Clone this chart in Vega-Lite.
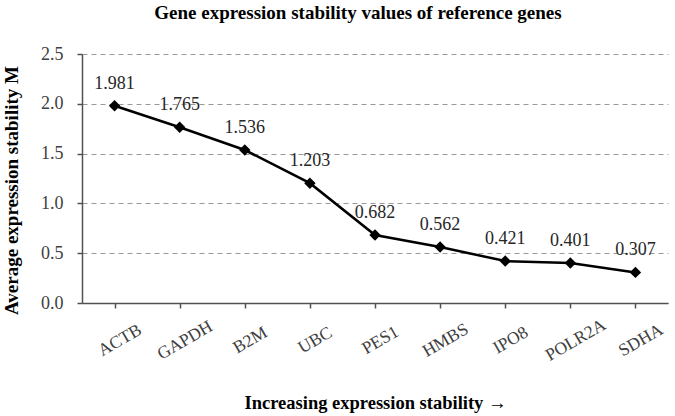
{
  "$schema": "https://vega.github.io/schema/vega-lite/v6.json",
  "autosize": "none",
  "width": 586,
  "height": 249,
  "padding": {"left": 82, "top": 54, "right": 7, "bottom": 113},
  "background": "white",
  "title": {
    "text": "Gene expression stability values of reference genes",
    "font": "Liberation Serif",
    "fontSize": 19,
    "fontWeight": "bold",
    "color": "#000000",
    "anchor": "middle",
    "frame": "group",
    "baseline": "bottom",
    "dx": -17,
    "offset": 3
  },
  "config": {
    "view": {"stroke": null},
    "font": "Liberation Serif"
  },
  "data": {
    "values": [
      {"gene": "ACTB", "M": 1.981},
      {"gene": "GAPDH", "M": 1.765},
      {"gene": "B2M", "M": 1.536},
      {"gene": "UBC", "M": 1.203},
      {"gene": "PES1", "M": 0.682},
      {"gene": "HMBS", "M": 0.562},
      {"gene": "IPO8", "M": 0.421},
      {"gene": "POLR2A", "M": 0.401},
      {"gene": "SDHA", "M": 0.307}
    ]
  },
  "encoding": {
    "x": {
      "field": "gene",
      "type": "ordinal",
      "sort": null,
      "scale": {"paddingInner": 0, "paddingOuter": 0},
      "axis": {
        "title": "Increasing expression stability →",
        "titleFont": "Liberation Serif",
        "titleFontSize": 18.5,
        "titleFontWeight": "bold",
        "titleColor": "#000000",
        "titleY": 105,
        "titleBaseline": "alphabetic",
        "labelAngle": -30,
        "labelAlign": "center",
        "labelBaseline": "middle",
        "labelPadding": 32,
        "labelOffset": 5,
        "labelFont": "Liberation Serif",
        "labelFontSize": 17.5,
        "labelColor": "#404040",
        "bandPosition": 0,
        "tickSize": 5,
        "tickColor": "#505050",
        "tickWidth": 1.5,
        "domainColor": "#505050",
        "domainWidth": 1.5,
        "grid": false
      }
    },
    "y": {
      "field": "M",
      "type": "quantitative",
      "scale": {"domain": [0, 2.5], "nice": false},
      "axis": {
        "title": "Average expression stability M",
        "titleFont": "Liberation Serif",
        "titleFontSize": 19,
        "titleFontWeight": "bold",
        "titleColor": "#000000",
        "titleX": -65,
        "titleY": 136,
        "titleAlign": "center",
        "titleBaseline": "alphabetic",
        "titleAngle": -90,
        "values": [0, 0.5, 1, 1.5, 2, 2.5],
        "format": ".1f",
        "labelFont": "Liberation Serif",
        "labelFontSize": 18,
        "labelColor": "#404040",
        "labelPadding": 14,
        "tickSize": 5,
        "tickColor": "#505050",
        "tickWidth": 1.5,
        "domainColor": "#505050",
        "domainWidth": 1.5,
        "grid": true,
        "gridColor": "#999999",
        "gridDash": [5, 4],
        "gridWidth": 1.2
      }
    }
  },
  "layer": [
    {
      "mark": {"type": "line", "color": "#000000", "strokeWidth": 2.5}
    },
    {
      "mark": {"type": "point", "shape": "diamond", "filled": true, "color": "#000000", "size": 130, "opacity": 1}
    },
    {
      "mark": {"type": "text", "dy": -22, "font": "Liberation Serif", "fontSize": 18, "color": "#262626"},
      "encoding": {"text": {"field": "M", "type": "quantitative", "format": ".3f"}}
    }
  ]
}
